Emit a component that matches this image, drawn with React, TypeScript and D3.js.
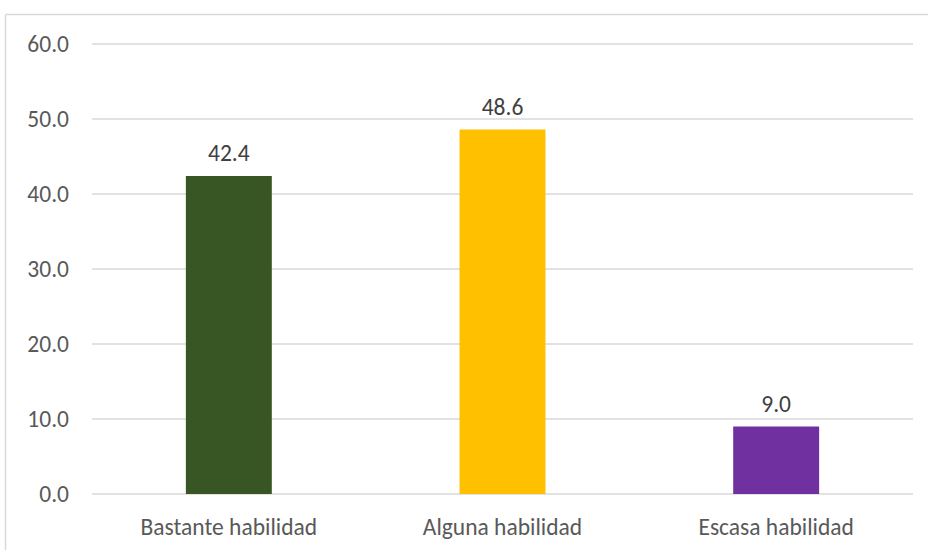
import React from "react";
import * as d3 from "d3";

const categories = ["Bastante habilidad", "Alguna habilidad", "Escasa habilidad"];
const values = [42.4, 48.6, 9.0];
const colors = ["#375623", "#FFC000", "#7030A0"];
const yTicks = [0, 10, 20, 30, 40, 50, 60];

const W = 928;
const H = 550;
const left = 92;
const right = 913;
const top = 44;
const bottom = 494;

export default function App() {
  const x = d3.scaleBand<string>().domain(categories).range([left, right]).padding(0);
  const y = d3.scaleLinear().domain([0, 60]).range([bottom, top]);
  const barW = x.bandwidth() * 0.314;
  const font = "Carlito, 'Open Sans', sans-serif";
  const fs = 23.5;
  return (
    <div style={{ position: "absolute", left: 0, top: 0 }}>
      <svg width={W} height={H} style={{ display: "block", background: "#fff" }}>
        <line x1={5.5} x2={W} y1={14.5} y2={14.5} stroke="#d9d9d9" strokeWidth={1.5} />
        <line x1={5.5} x2={5.5} y1={14.5} y2={H} stroke="#d9d9d9" strokeWidth={1.5} />
        {yTicks.map((t) => (
          <g key={t}>
            <line x1={left} x2={right} y1={y(t)} y2={y(t)} stroke="#d9d9d9" strokeWidth={1.3} />
            <text
              x={69}
              y={y(t)}
              dy="0.35em"
              textAnchor="end"
              fontFamily={font}
              fontSize={fs}
              fill="#595959"
            >
              {d3.format(".1f")(t)}
            </text>
          </g>
        ))}
        {categories.map((c, i) => {
          const cx = (x(c) as number) + x.bandwidth() / 2;
          return (
            <g key={c}>
              <rect
                x={cx - barW / 2}
                y={y(values[i])}
                width={barW}
                height={y(0) - y(values[i])}
                fill={colors[i]}
              />
              <text
                x={cx}
                y={y(values[i]) - 23}
                dy="0.35em"
                textAnchor="middle"
                fontFamily={font}
                fontSize={fs}
                fill="#404040"
              >
                {d3.format(".1f")(values[i])}
              </text>
              <text
                x={cx}
                y={527}
                dy="0.35em"
                textAnchor="middle"
                fontFamily={font}
                fontSize={fs}
                fill="#595959"
              >
                {c}
              </text>
            </g>
          );
        })}
      </svg>
    </div>
  );
}
